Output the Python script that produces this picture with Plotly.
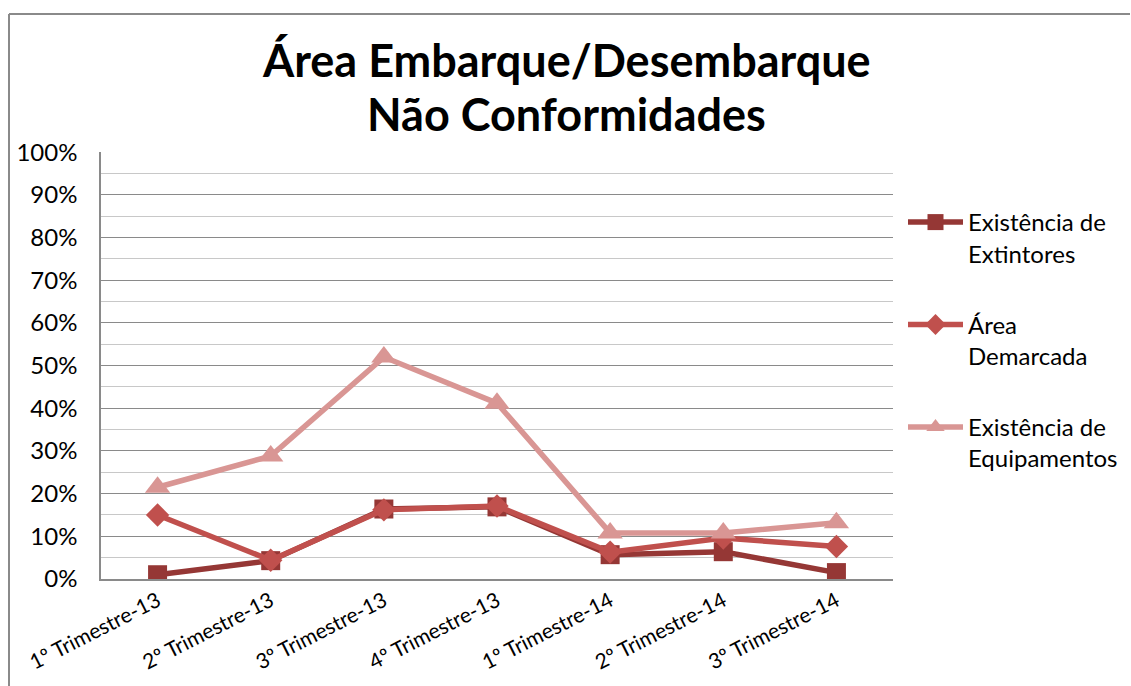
import plotly.graph_objects as go

# Quarters on the category axis
categories = ["1º Trimestre-13", "2º Trimestre-13", "3º Trimestre-13", "4º Trimestre-13",
              "1º Trimestre-14", "2º Trimestre-14", "3º Trimestre-14"]

# Non-conformity shares per quarter (fractions of 1)
extintores = [0.010, 0.043, 0.164, 0.169, 0.057, 0.064, 0.015]
area_demarcada = [0.150, 0.044, 0.162, 0.171, 0.063, 0.096, 0.076]
equipamentos = [0.215, 0.288, 0.520, 0.412, 0.108, 0.108, 0.132]

series_names = ["Existência de<br>Extintores", "Área<br>Demarcada", "Existência de<br>Equipamentos"]
series_values = [extintores, area_demarcada, equipamentos]
series_colors = ["#953735", "#C0504D", "#D99694"]
series_symbols = ["square", "diamond", "triangle-up"]
series_sizes = [19, 18, 22]

FONT = "Lato"
GRID = "#8a8a8a"

fig = go.Figure()
for i, (name, vals, col, sym, sz) in enumerate(zip(series_names, series_values, series_colors,
                                                   series_symbols, series_sizes)):
    fig.add_trace(go.Scatter(
        x=categories, y=vals, name=name, mode="lines+markers",
        line=dict(color=col, width=5.5),
        marker=dict(symbol=sym, size=sz, color=col),
        legendgroup=f"g{i}",
    ))

W, H = 1131, 686
L, R, T, B = 101, 238, 152, 107
pw, ph = W - L - R, H - T - B


def px_x(x):
    return (x - L) / pw


def px_y(y):
    return (H - B - y) / ph


fig.update_layout(
    width=W, height=H,
    margin=dict(l=L, r=R, t=T, b=B, pad=0, autoexpand=False),
    paper_bgcolor="white", plot_bgcolor="white",
    font=dict(family=FONT, size=24, color="#000000"),
    showlegend=True,
    legend=dict(
        x=px_x(903), y=px_y(200), xanchor="left", yanchor="top",
        font=dict(family=FONT, size=24, color="#000000"),
        tracegroupgap=37, valign="top", itemwidth=55,
        bgcolor="rgba(0,0,0,0)",
    ),
    xaxis=dict(
        type="category", range=[-0.5, 6.5], automargin=False,
        showgrid=False, zeroline=False,
        showline=True, linecolor=GRID, linewidth=1.5,
        ticks="", tickangle=-27,
        tickfont=dict(family=FONT, size=21, color="#000000"),
    ),
    yaxis=dict(
        range=[0, 1.0005], dtick=0.1, tickformat=".0%", automargin=False,
        showgrid=True, gridcolor=GRID, gridwidth=1.2,
        zeroline=False,
        showline=True, linecolor=GRID, linewidth=1.5,
        ticks="", ticklabelstandoff=17,
        tickfont=dict(family=FONT, size=24, color="#000000"),
        minor=dict(dtick=0.05, showgrid=True, gridcolor="#c8c8c8", gridwidth=1.2),
    ),
)

# Two-line bold title
fig.add_annotation(text="<b>Área Embarque/Desembarque</b>", xref="paper", yref="paper",
                   x=px_x(566), y=px_y(60), xanchor="center", yanchor="middle",
                   showarrow=False, font=dict(family=FONT, size=45, color="#000000"))
fig.add_annotation(text="<b>Não Conformidades</b>", xref="paper", yref="paper",
                   x=px_x(566), y=px_y(114), xanchor="center", yanchor="middle",
                   showarrow=False, font=dict(family=FONT, size=45, color="#000000"))

# Chart frame (top and left edges)
fig.add_shape(type="line", xref="paper", yref="paper",
              x0=px_x(9), x1=px_x(1130), y0=px_y(14), y1=px_y(14),
              line=dict(color="#8a8a8a", width=2))
fig.add_shape(type="line", xref="paper", yref="paper",
              x0=px_x(9), x1=px_x(9), y0=px_y(14), y1=px_y(700),
              line=dict(color="#8a8a8a", width=2))

fig.write_html("out.html")
